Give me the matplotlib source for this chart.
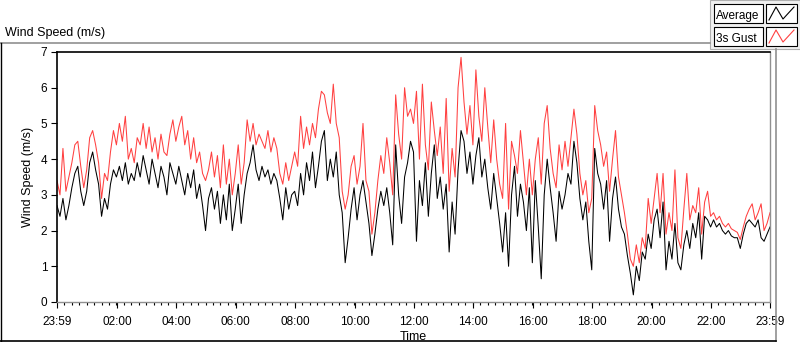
import numpy as np
import matplotlib
matplotlib.use("Agg")
import matplotlib.pyplot as plt
from matplotlib.patches import Rectangle
from matplotlib.lines import Line2D

plt.rcParams['font.family'] = ['Liberation Sans', 'DejaVu Sans']

# one sample every 6 minutes, from 23:59 to 23:59 next day
sample_minutes = np.arange(0, 1441, 6)

# average wind speed (m/s), one row per hour
avg_speed = [
    2.7, 2.4, 2.9, 2.3, 2.7, 3.2, 3.6, 3.8, 3.1, 2.7,
    3.1, 3.9, 4.2, 3.7, 3.3, 2.4, 2.9, 2.6, 3.3, 3.7,
    3.5, 3.8, 3.4, 3.9, 3.3, 3.6, 3.4, 3.9, 3.5, 4.1,
    3.7, 3.3, 4.0, 3.6, 3.2, 3.8, 3.5, 3.0, 3.9, 3.6,
    3.3, 3.8, 3.4, 3.0, 3.6, 3.2, 3.7, 2.9, 3.3, 2.7,
    2.0, 2.9, 3.2, 2.6, 3.1, 2.2, 3.0, 2.3, 3.3, 2.0,
    2.6, 3.3, 2.2, 3.0, 3.6, 3.9, 4.4, 3.7, 3.4, 3.8,
    3.5, 3.7, 3.3, 3.6, 3.4, 2.9, 2.3, 3.2, 2.6, 3.0,
    3.1, 2.7, 3.6, 3.0, 3.9, 3.4, 4.2, 3.2, 3.8, 4.5,
    4.8, 3.4, 4.0, 3.5, 4.2, 3.0, 2.5, 1.1, 1.8, 2.6,
    3.2, 2.3, 3.0, 3.4, 2.8, 2.2, 1.3, 1.9, 2.6, 3.1,
    2.7, 3.2, 2.5, 1.6, 4.4, 3.0, 2.2, 3.5, 3.9, 4.5,
    4.2, 1.7, 3.4, 2.7, 3.9, 2.4, 3.6, 4.4, 2.9, 3.5,
    2.6, 3.3, 1.4, 2.8, 1.9, 3.7, 4.8, 4.5, 3.6, 4.2,
    3.3, 4.1, 4.6, 3.5, 4.0, 3.2, 2.6, 3.6, 2.9, 2.2,
    1.4, 2.5, 1.0, 3.0, 3.8, 2.4, 3.3, 2.8, 2.0, 3.2,
    1.1, 3.4, 2.1, 0.65, 3.0, 4.0, 3.2, 2.5, 1.7, 3.1,
    2.6, 3.0, 3.6, 3.3, 4.5, 3.9, 2.9, 2.3, 2.8, 1.7,
    0.9, 4.3, 3.6, 3.3, 2.6, 3.4, 1.7, 2.9, 3.5, 2.6,
    2.1, 1.9, 1.3, 0.8, 0.2, 1.0, 0.6, 1.4, 1.2, 1.9,
    1.5, 2.3, 2.6, 1.8, 2.8, 0.9, 1.7, 1.2, 2.2, 1.1,
    0.9, 1.6, 2.0, 1.5, 2.2, 1.8, 2.5, 1.2, 2.4, 2.3,
    2.1, 2.3, 2.1, 2.2, 2.0, 1.9, 2.0, 1.85, 1.8, 1.8,
    1.5, 1.9, 2.2, 2.3, 2.2, 2.1, 2.3, 1.8, 1.7, 1.9,
    2.1,
]

# 3 second gust (m/s)
gust_speed = [
    3.4, 3.0, 4.3, 3.1, 3.5, 3.9, 4.4, 4.5, 3.8, 3.2,
    3.7, 4.6, 4.8, 4.4, 3.9, 2.9, 3.6, 3.4, 4.2, 4.8,
    4.4, 5.0, 4.5, 5.2, 4.0, 4.3, 3.9, 4.6, 4.4, 5.0,
    4.3, 4.9, 4.2, 4.6, 4.0, 4.7, 4.2, 4.1, 4.7, 5.1,
    4.5, 4.9, 5.2, 4.4, 4.8, 4.0, 4.6, 3.9, 4.2, 3.6,
    3.4, 3.7, 4.2, 3.5, 4.1, 3.2, 4.4, 3.3, 4.0, 3.0,
    3.6, 4.4, 3.3, 3.9, 5.1, 4.5, 5.0, 4.4, 4.7, 4.5,
    4.3, 4.8, 4.2, 4.6, 4.3, 3.6, 3.3, 3.9, 3.4, 3.8,
    4.2, 3.8, 5.2, 4.3, 4.9, 4.4, 5.0, 4.6, 5.4, 5.9,
    5.8, 5.3, 5.0, 6.1, 5.0, 4.6, 3.1, 2.6, 3.0, 3.8,
    4.1, 3.3, 3.8, 5.0, 3.4, 3.1, 1.9, 2.5, 3.4, 4.1,
    3.6, 4.6, 3.9, 3.0, 5.8, 4.7, 4.0, 6.0, 5.2, 5.4,
    5.0, 5.9, 4.0, 6.1, 4.4, 3.7, 5.6, 4.8, 4.1, 4.9,
    3.6, 5.7, 3.1, 4.3, 3.5, 6.0, 6.85, 5.6, 4.7, 5.5,
    4.4, 6.5, 5.2, 4.5, 6.0, 4.9, 3.9, 5.1, 4.0, 3.3,
    2.9, 5.0, 2.6, 4.5, 4.1, 3.6, 4.8, 3.9, 3.0, 4.0,
    3.0, 4.0, 4.6, 3.3, 5.0, 5.5, 4.3, 3.6, 3.2, 4.4,
    3.7, 4.5, 3.8, 4.6, 5.4, 4.7, 3.6, 3.0, 3.4, 2.5,
    2.9, 5.5, 4.8, 4.4, 3.8, 4.2, 3.1, 4.0, 4.8, 3.5,
    3.0, 2.5, 1.9, 1.2, 1.0, 1.6, 1.1, 1.8, 1.5, 2.9,
    2.2, 2.9, 3.6, 2.5, 3.6, 1.9, 2.5, 2.0, 3.7, 1.8,
    1.5, 2.6, 3.6, 2.3, 2.7, 2.5, 3.2, 1.9, 2.8, 3.1,
    2.4, 2.5, 2.3, 2.4, 2.2, 2.1, 2.2, 2.05, 2.0, 1.95,
    1.75, 2.1, 2.4, 2.6, 2.75, 2.3, 2.5, 2.75, 2.0, 2.2,
    2.5,
]

tick_minutes = [0, 121, 241, 361, 481, 601, 721, 841, 961, 1081, 1201, 1321, 1440]
tick_labels = ['23:59', '02:00', '04:00', '06:00', '08:00', '10:00', '12:00',
               '14:00', '16:00', '18:00', '20:00', '22:00', '23:59']

W, H = 800, 342


def px(x, y):
    # pixel position -> figure fraction
    return x / W, 1 - y / H


fig = plt.figure(figsize=(W / 100, H / 100), dpi=100)
fig.patch.set_facecolor('white')

ax = fig.add_axes([57 / W, 1 - 302 / H, 713 / W, 250 / H])
ax.plot(sample_minutes, gust_speed, color='#ff4040', lw=0.75)
ax.plot(sample_minutes, avg_speed, color='black', lw=0.75)

ax.set_xlim(0, 1440)
ax.set_ylim(0, 7)
ax.set_yticks(range(8))
ax.set_xticks(tick_minutes)
ax.set_xticklabels(tick_labels)
ax.set_xticks(np.arange(0, 1441, 15), minor=True)
ax.tick_params(axis='both', which='major', length=4, width=0.8, labelsize=8.5, colors='black')
ax.tick_params(axis='x', which='major', pad=6)
ax.tick_params(axis='y', which='major', pad=3)
ax.tick_params(axis='x', which='minor', length=2.5, width=0.8)
ax.set_xlabel('Time', fontsize=9, labelpad=2)
ax.set_ylabel('Wind Speed (m/s)', fontsize=9, labelpad=5)

for side in ['top', 'left']:
    ax.spines[side].set_color('black')
    ax.spines[side].set_linewidth(1.2)
for side in ['bottom', 'right']:
    ax.spines[side].set_color('#909090')
    ax.spines[side].set_linewidth(1.0)

# outer panel lines and caption
fig.add_artist(Line2D(*zip(px(0, 43), px(710, 43)), color='#909090', lw=1.2))
fig.add_artist(Line2D(*zip(px(776, 49), px(776, 342)), color='#909090', lw=1.2))
fig.add_artist(Line2D(*zip(px(0.5, 43), px(0.5, 342)), color='black', lw=1.0))
fig.add_artist(Line2D(*zip(px(0, 341), px(776, 341)), color='black', lw=1.2))
fig.text(*px(5, 36), 'Wind Speed (m/s)', fontsize=9, va='baseline', ha='left')

# legend panel
fig.add_artist(Rectangle(px(710, 49), 90 / W, 49 / H, facecolor='#f0f0f0',
                         edgecolor='#b0b0b0', lw=0.8))
legend_items = [('Average', 'black', 4), ('3s Gust', '#ff4040', 27)]
for name, col, top in legend_items:
    fig.add_artist(Rectangle(px(714, top + 19), 49 / W, 19 / H, facecolor='white',
                             edgecolor='black', lw=0.8))
    fig.text(*px(716, top + 14.5), name, fontsize=8.5, va='baseline', ha='left')
    fig.add_artist(Rectangle(px(766, top + 19), 31 / W, 19 / H, facecolor='white',
                             edgecolor='black', lw=0.8))
    zx = [769, 776, 783, 794]
    zy = [top + 16, top + 3, top + 15, top + 3]
    fig.add_artist(Line2D([x / W for x in zx], [1 - y / H for y in zy], color=col, lw=0.8))

fig.savefig('out.png', dpi=100)
